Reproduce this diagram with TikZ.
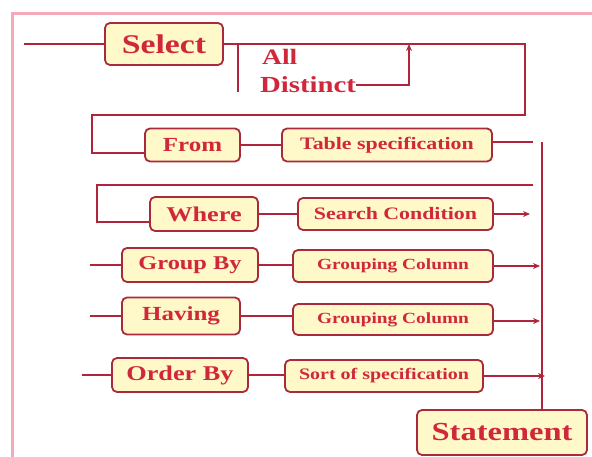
\documentclass[tikz,border=0pt]{standalone}
\usepackage{fontspec}
\setmainfont{Liberation Serif}[FakeStretch=1.25]
\usetikzlibrary{arrows.meta}
\definecolor{boxfill}{HTML}{FFF8C8}
\definecolor{boxline}{HTML}{A82A3C}
\definecolor{txtred}{HTML}{D0283A}
\definecolor{wire}{HTML}{B0243C}
\definecolor{frame}{HTML}{F4AAB8}

\begin{document}
\begin{tikzpicture}[x=1pt,y=-1pt,
	kw/.style = {draw=boxline, fill=boxfill, line width=1.8pt, rounded corners=5pt,
		text=txtred, font=\bfseries, inner sep=0pt},
	opt/.style = {text=txtred, font=\bfseries, inner sep=0pt, anchor=west},
	wire/.style = {draw=wire, line width=2pt},
	tip/.style = {wire, -{Stealth[length=7pt,width=6pt]}}]
	\useasboundingbox (0,0) rectangle (592,457);
	\clip (0,0) rectangle (592,457);
	\draw[frame, line width=3pt] (12,14) rectangle (620,480);

	% keyword boxes
	\node[kw, minimum width=118pt, minimum height=42pt, font=\bfseries\fontsize{27}{27}\selectfont] (select) at (164,44) {Select};
	\node[kw, minimum width=95pt, minimum height=33pt, font=\bfseries\fontsize{20}{20}\selectfont] (from) at (192.5,145) {From};
	\node[kw, minimum width=108pt, minimum height=34pt, font=\bfseries\fontsize{21}{21}\selectfont] (where) at (204,214) {Where};
	\node[kw, minimum width=136pt, minimum height=34pt, font=\bfseries\fontsize{19.5}{19.5}\selectfont] (groupby) at (190,265) {Group By};
	\node[kw, minimum width=118pt, minimum height=37pt, font=\bfseries\fontsize{20}{20}\selectfont] (having) at (181,316) {Having};
	\node[kw, minimum width=136pt, minimum height=34pt, font=\bfseries\fontsize{21}{21}\selectfont] (orderby) at (180,375) {Order By};
	\node[kw, minimum width=170pt, minimum height=45pt, font=\bfseries\fontsize{26}{26}\selectfont] (statement) at (502,432.5) {Statement};

	% argument boxes
	\node[kw, minimum width=210pt, minimum height=33pt, font=\bfseries\fontsize{17.5}{17.5}\selectfont] (table) at (387,145) {Table specification};
	\node[kw, minimum width=195pt, minimum height=32pt, font=\bfseries\fontsize{17.5}{17.5}\selectfont] (search) at (395.5,214) {Search Condition};
	\node[kw, minimum width=200pt, minimum height=32pt, font=\bfseries\fontsize{15.5}{15.5}\selectfont] (gcol1) at (393,266) {Grouping Column};
	\node[kw, minimum width=200pt, minimum height=31pt, font=\bfseries\fontsize{15.5}{15.5}\selectfont] (gcol2) at (393,319.5) {Grouping Column};
	\node[kw, minimum width=198pt, minimum height=32pt, font=\bfseries\fontsize{16}{16}\selectfont] (sortspec) at (384,376) {Sort of specification};

	% All / Distinct
	\node[opt, font=\bfseries\fontsize{22}{22}\selectfont] (all) at (262,57) {All};
	\node[opt, font=\bfseries\fontsize{23}{23}\selectfont] (distinct) at (260,85) {Distinct};

	% free ends
	\coordinate (selin) at (24,44);
	\coordinate (sj) at (238,44);
	\coordinate (sb) at (238,92);
	\coordinate (tout) at (533,142);
	\coordinate (tv) at (542,142);
	\coordinate (wtop) at (533,185);
	\coordinate (sout) at (530,214);
	\coordinate (gbin) at (90,265);
	\coordinate (g1out) at (540,266);
	\coordinate (hin) at (90,316);
	\coordinate (g2out) at (540,321);
	\coordinate (obin) at (82,375);
	\coordinate (soout) at (545,376);

	\draw[wire] (selin) -- (select);
	\draw[wire] (select) -- (525,44) -- (525,115) -- (92,115) -- (92,153) -- (from.west |- 92,153);
	\draw[wire] (sj) -- (sb);
	\draw[tip] (distinct.east) -- (409,85) -- (409,44);
	\draw[wire] (from) -- (table);
	\draw[wire] (table.east |- tout) -- (tout);
	\draw[wire] (tv) -- (statement.north -| tv);
	\draw[wire] (wtop) -- (97,185) -- (97,222) -- (where.west |- 97,222);
	\draw[wire] (where) -- (search);
	\draw[tip] (search) -- (sout);
	\draw[wire] (gbin) -- (groupby);
	\draw[wire] (groupby.east) -- (gcol1.west |- groupby.east);
	\draw[tip] (gcol1) -- (g1out);
	\draw[wire] (hin) -- (having);
	\draw[wire] (having) -- (gcol2.west |- having);
	\draw[tip] (gcol2.east |- g2out) -- (g2out);
	\draw[wire] (obin) -- (orderby);
	\draw[wire] (orderby.east) -- (sortspec.west |- orderby.east);
	\draw[tip] (sortspec) -- (soout);
\end{tikzpicture}
\end{document}
